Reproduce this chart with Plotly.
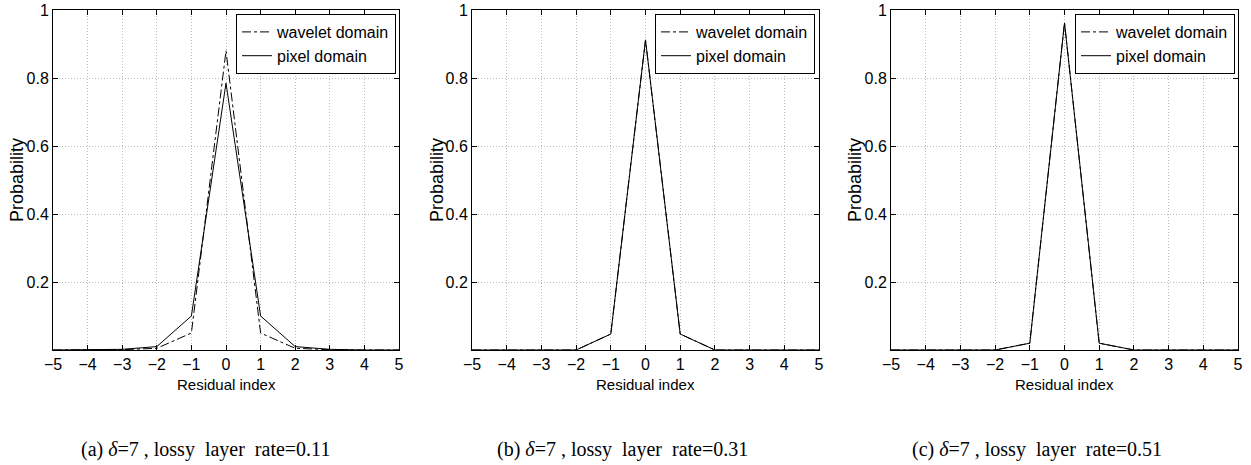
import plotly.graph_objects as go

residual_index = [-5, -4, -3, -2, -1, 0, 1, 2, 3, 4, 5]

wavelet_a = [0, 0, 0.001, 0.005, 0.05, 0.88, 0.05, 0.005, 0.001, 0, 0]
pixel_a = [0, 0, 0.002, 0.01, 0.10, 0.785, 0.10, 0.01, 0.002, 0, 0]

wavelet_b = [0, 0, 0, 0, 0.047, 0.912, 0.047, 0, 0, 0, 0]
pixel_b = [0, 0, 0, 0, 0.047, 0.912, 0.047, 0, 0, 0, 0]

wavelet_c = [0, 0, 0, 0, 0.02, 0.962, 0.02, 0, 0, 0, 0]
pixel_c = [0, 0, 0, 0, 0.02, 0.962, 0.02, 0, 0, 0, 0]

captions = [
    "(a) <i>δ</i>=7 , lossy  layer  rate=0.11",
    "(b) <i>δ</i>=7 , lossy  layer  rate=0.31",
    "(c) <i>δ</i>=7 , lossy  layer  rate=0.51",
]

x_ticks = [-5, -4, -3, -2, -1, 0, 1, 2, 3, 4, 5]
y_ticks = [0.2, 0.4, 0.6, 0.8, 1]
y_ticktext = ["0.2", "0.4", "0.6", "0.8", "1"]

W, H = 1251, 465
panels_px = [(53, 399), (472, 819), (891, 1238)]
top_px, bottom_px = 10, 350
legend_right_px = [396, 815, 1235]
legend_font = [16, 16, 16]
caption_center_px = [205, 622, 1037]
ylabel_px = [17, 437, 855]

fig = go.Figure()
series = [(wavelet_a, pixel_a), (wavelet_b, pixel_b), (wavelet_c, pixel_c)]
font_main = "Liberation Sans, Arial, sans-serif"

for i, (wv, px) in enumerate(series):
    sfx = "" if i == 0 else str(i + 1)
    lg = "legend" if i == 0 else "legend" + str(i + 1)
    fig.add_trace(go.Scatter(x=residual_index, y=wv, mode="lines", name="wavelet domain",
                             line=dict(color="black", width=1, dash="dashdot"),
                             xaxis="x" + sfx, yaxis="y" + sfx, legend=lg))
    fig.add_trace(go.Scatter(x=residual_index, y=px, mode="lines", name="pixel domain",
                             line=dict(color="black", width=1),
                             xaxis="x" + sfx, yaxis="y" + sfx, legend=lg))

layout = dict(
    template="none",
    width=W, height=H,
    margin=dict(l=0, r=0, t=0, b=0, autoexpand=False),
    paper_bgcolor="white", plot_bgcolor="white",
    font=dict(family=font_main, size=16, color="black"),
    showlegend=True,
)

ann = []
for i, (l, r) in enumerate(panels_px):
    sfx = "" if i == 0 else str(i + 1)
    common = dict(showline=True, linecolor="black", linewidth=1, mirror="ticks",
                  ticks="inside", ticklen=5, tickwidth=1, tickcolor="black",
                  showgrid=True, gridcolor="#bcbcbc", griddash="1px,2px", gridwidth=1,
                  zeroline=False, automargin=False, tickfont=dict(size=16, family=font_main))
    xa = dict(domain=[l / W, r / W], range=[-5, 5], tickvals=x_ticks,
              anchor="y" + sfx, **common)
    ya = dict(domain=[1 - bottom_px / H, 1 - top_px / H], range=[0, 1],
              tickvals=y_ticks, ticktext=y_ticktext, anchor="x" + sfx, **common)
    layout["xaxis" + sfx] = xa
    layout["yaxis" + sfx] = ya
    lg = "legend" if i == 0 else "legend" + str(i + 1)
    layout[lg] = dict(x=legend_right_px[i] / W, y=1 - 14 / H, xanchor="right", yanchor="top",
                      bgcolor="white", bordercolor="black", borderwidth=1, itemwidth=30,
                      font=dict(size=legend_font[i], family=font_main), tracegroupgap=0)
    ann.append(dict(text="Residual index", x=(l + r) / 2 / W, y=1 - 384 / H,
                    xref="paper", yref="paper", showarrow=False,
                    font=dict(size=15, family=font_main), xanchor="center", yanchor="middle"))
    ann.append(dict(text="Probability", x=ylabel_px[i] / W, y=1 - 180 / H,
                    xref="paper", yref="paper", showarrow=False, textangle=-90,
                    font=dict(size=18, family=font_main), xanchor="center", yanchor="middle"))
    ann.append(dict(text=captions[i], x=caption_center_px[i] / W, y=1 - 449 / H,
                    xref="paper", yref="paper", showarrow=False,
                    font=dict(size=20, family="Liberation Serif, Times New Roman, serif"),
                    xanchor="center", yanchor="middle"))

layout["annotations"] = ann
fig.update_layout(**layout)
fig.write_html("out.html")
